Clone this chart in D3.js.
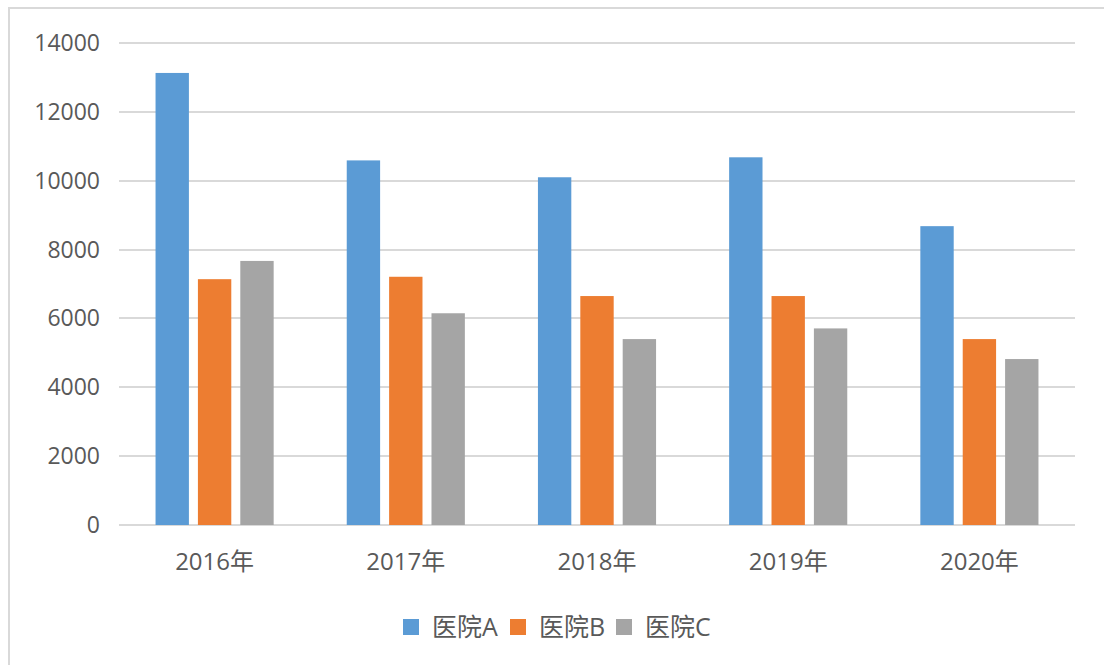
<!DOCTYPE html>
<html>
<head>
<meta charset="utf-8">
<script src="https://cdn.jsdelivr.net/npm/d3@7"></script>
<style>
  body { margin: 0; background: #fff; }
  svg { display: block; }
  text { font-family: "Open Sans", "Noto Sans CJK SC", sans-serif; fill: #595959; }
</style>
</head>
<body>
<svg width="1104" height="665"></svg>
<script>
  // data
  var years = ['2016年', '2017年', '2018年', '2019年', '2020年'];
  var seriesNames = ['医院A', '医院B', '医院C'];
  var hospitalA = [13130, 10590, 10100, 10680, 8680];
  var hospitalB = [7140, 7210, 6650, 6650, 5400];
  var hospitalC = [7670, 6150, 5400, 5710, 4820];
  var yTicks = [0, 2000, 4000, 6000, 8000, 10000, 12000, 14000];
  var colors = ['#5b9bd5', '#ed7d31', '#a5a5a5'];

  var allSeries = [hospitalA, hospitalB, hospitalC];

  var svg = d3.select("svg");

  // chart frame (only top and left edges show in the picture)
  svg.append("path")
    .attr("d", "M9,665 L9,8 L1104,8")
    .attr("fill", "none")
    .attr("stroke", "#d9d9d9")
    .attr("stroke-width", 2);

  var plotLeft = 119, plotRight = 1075, plotTop = 43, plotBottom = 525;

  var x = d3.scaleBand().domain(years).range([plotLeft, plotRight]);
  var y = d3.scaleLinear().domain([0, 14000]).range([plotBottom, plotTop]);

  // bar geometry like excel: gap width 219%, overlap -27%
  var bw = x.bandwidth() / (3 + 2 * 0.27 + 2.19);
  var groupOffset = (x.bandwidth() - (bw * 3 + bw * 0.54)) / 2;

  // gridlines
  svg.append("g")
    .selectAll("line")
    .data(yTicks)
    .enter()
    .append("line")
    .attr("x1", plotLeft)
    .attr("x2", plotRight)
    .attr("y1", function(d) { return Math.round(y(d)); })
    .attr("y2", function(d) { return Math.round(y(d)); })
    .attr("stroke", "#d9d9d9")
    .attr("stroke-width", 2);

  // y labels
  svg.append("g")
    .selectAll("text")
    .data(yTicks)
    .enter()
    .append("text")
    .attr("x", 100)
    .attr("y", function(d) { return y(d); })
    .attr("dy", "0.35em")
    .attr("text-anchor", "end")
    .style("font-size", "23px")
    .text(function(d) { return d; });

  // bars
  var rows = years.map(function(yr, i) {
    return seriesNames.map(function(s, j) { return {year: yr, series: s, idx: j, value: allSeries[j][i]}; });
  });

  svg.append("g")
    .selectAll("g")
    .data(rows)
    .enter()
    .append("g")
    .attr("transform", function(d) { return "translate(" + (x(d[0].year) + groupOffset) + ",0)"; })
    .selectAll("rect")
    .data(function(d) { return d; })
    .enter()
    .append("rect")
    .attr("x", function(d) { return d.idx * bw * 1.27; })
    .attr("width", bw)
    .attr("y", function(d) { return y(d.value); })
    .attr("height", function(d) { return plotBottom - y(d.value); })
    .attr("fill", function(d) { return colors[d.idx]; });

  // x labels
  svg.append("g")
    .selectAll("text")
    .data(years)
    .enter()
    .append("text")
    .attr("x", function(d) { return x(d) + x.bandwidth() / 2; })
    .attr("y", 562)
    .attr("dy", "0.35em")
    .attr("text-anchor", "middle")
    .style("font-size", "24px")
    .text(function(d) { return d; });

  // legend
  var legendX = [403, 510, 616];
  var legend = svg.append("g")
    .selectAll("g")
    .data(seriesNames)
    .enter()
    .append("g")
    .attr("transform", function(d, i) { return "translate(" + legendX[i] + ",627)"; });

  legend.append("rect")
    .attr("x", 0)
    .attr("y", -8)
    .attr("width", 16)
    .attr("height", 16)
    .attr("fill", function(d, i) { return colors[i]; });

  legend.append("text")
    .attr("x", 29)
    .attr("y", 0)
    .attr("dy", "0.35em")
    .style("font-size", "25px")
    .text(function(d) { return d; });
</script>
</body>
</html>
